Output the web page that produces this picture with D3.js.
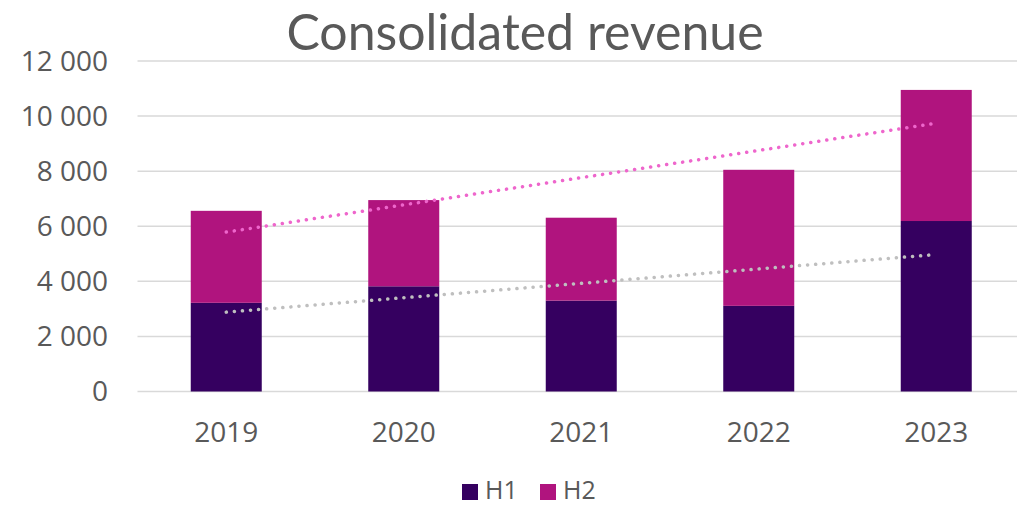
<!DOCTYPE html>
<html>
<head>
<meta charset="utf-8">
<script src="https://cdn.jsdelivr.net/npm/d3@7"></script>
<style>
  body { margin: 0; background: #fff; }
  text { font-family: 'Open Sans', sans-serif; fill: #595959; }
  .title { font-family: Lato, 'Open Sans', sans-serif; }
</style>
</head>
<body>
<svg id="chart" width="1017" height="506"></svg>
<script>
// data
const years = ['2019', '2020', '2021', '2022', '2023']
const h1 = [3220, 3820, 3300, 3110, 6190]
const h2 = [3340, 3130, 3010, 4940, 4760]
const yTicks = [0, 2000, 4000, 6000, 8000, 10000, 12000]
const seriesNames = ['H1', 'H2']
const colors = ['#350060', '#B0147E']
const trendColors = ['#BFBFBF', '#EE66CC']

const svg = d3.select('#chart')

const x = d3.scaleBand()
    .domain(years)
    .range([137.5, 1025])
    .paddingInner(0.6)
    .paddingOuter(0.3)

const y = d3.scaleLinear()
    .domain([0, 12000])
    .range([391.5, 61])

// gridlines
svg.append('g')
    .selectAll('line')
    .data(yTicks)
    .join('line')
        .attr('x1', 137.5)
        .attr('x2', 1017)
        .attr('y1', d => y(d))
        .attr('y2', d => y(d))
        .attr('stroke', '#D9D9D9')
        .attr('stroke-width', 1.5)

// y axis labels
const fmt = d => d3.format(',')(d).replace(/,/g, ' ')
svg.append('g')
    .selectAll('text')
    .data(yTicks)
    .join('text')
        .attr('x', 108)
        .attr('y', d => y(d))
        .attr('dy', '0.35em')
        .attr('text-anchor', 'end')
        .style('font-size', '28px')
        .text(fmt)

// stacked bars
const rows = years.map((yr, i) => ({ year: yr, H1: h1[i], H2: h2[i] }))
const stack = d3.stack().keys(seriesNames)(rows)

svg.append('g')
    .selectAll('g')
    .data(stack)
    .join('g')
        .attr('fill', (d, i) => colors[i])
    .selectAll('rect')
    .data(d => d)
    .join('rect')
        .attr('x', d => x(d.data.year))
        .attr('width', x.bandwidth())
        .attr('y', d => y(d[1]))
        .attr('height', d => y(d[0]) - y(d[1]))

// x labels
svg.append('g')
    .selectAll('text')
    .data(years)
    .join('text')
        .attr('x', d => x(d) + x.bandwidth() / 2)
        .attr('y', 442)
        .attr('text-anchor', 'middle')
        .style('font-size', '28px')
        .text(d => d)

// linear trendlines: H1 and total
const linReg = vals => {
    const xs = vals.map((v, i) => i + 1)
    const mx = d3.mean(xs), my = d3.mean(vals)
    const slope = d3.sum(xs, (xi, i) => (xi - mx) * (vals[i] - my)) / d3.sum(xs, xi => (xi - mx) ** 2)
    return xi => my + slope * (xi - mx)
}
const totals = h1.map((v, i) => v + h2[i])
const trends = [h1, totals]

svg.append('g')
    .selectAll('line')
    .data(trends)
    .join('line')
        .each(function (vals, i) {
            const f = linReg(vals)
            d3.select(this)
                .attr('x1', x(years[0]) + x.bandwidth() / 2)
                .attr('x2', x(years[years.length - 1]) + x.bandwidth() / 2)
                .attr('y1', y(f(1)))
                .attr('y2', y(f(years.length)))
                .attr('stroke', trendColors[i])
        })
        .attr('stroke-width', 3.5)
        .attr('stroke-linecap', 'round')
        .attr('stroke-dasharray', '0.1 8')

// title
svg.append('text')
    .attr('class', 'title')
    .attr('x', 525)
    .attr('y', 50)
    .attr('text-anchor', 'middle')
    .style('font-size', '50px')
    .text('Consolidated revenue')

// legend
const legend = svg.append('g')
    .selectAll('g')
    .data(seriesNames)
    .join('g')
        .attr('transform', (d, i) => `translate(${462 + i * 78},0)`)
legend.append('rect')
    .attr('y', 484)
    .attr('width', 16)
    .attr('height', 16)
    .attr('fill', (d, i) => colors[i])
legend.append('text')
    .attr('x', 23)
    .attr('y', 499)
    .style('font-size', '25px')
    .text(d => d)
</script>
</body>
</html>
